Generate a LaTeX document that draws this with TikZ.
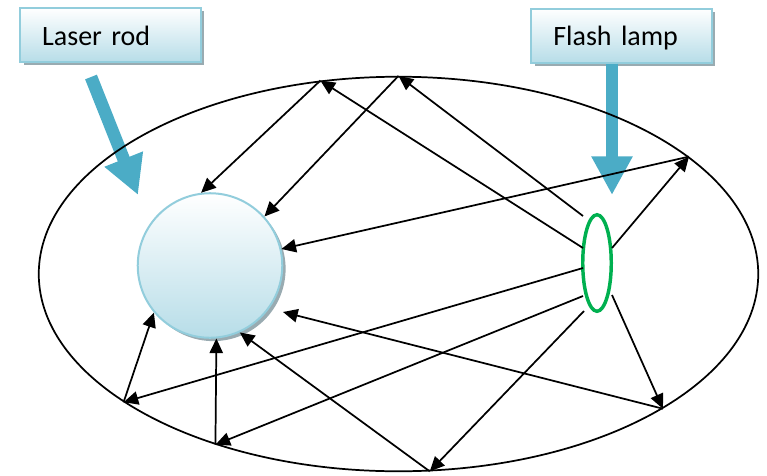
\documentclass[tikz,border=0pt]{standalone}
\usepackage{fontspec}
\setmainfont{Carlito}
\usepackage{xcolor}
\usetikzlibrary{arrows.meta}
\usetikzlibrary{shapes.geometric}
\usetikzlibrary{shadows}

\definecolor{callout}{RGB}{75,172,198}
\definecolor{rimblue}{RGB}{146,205,220}
\definecolor{rodblue}{RGB}{183,221,232}
\definecolor{lampgreen}{RGB}{0,176,80}
\definecolor{shadowgray}{RGB}{128,150,158}

\begin{document}
\begin{tikzpicture}[x=0.75pt, y=-0.75pt,
		ray/.style={black, line width=1.3pt, -{Triangle[length=11pt,width=10pt]}},
		callarrow/.style={callout, line width=9.5pt, -{Triangle[length=29pt,width=29pt]}},
		blueshade/.style={draw=rimblue, line width=1.5pt, top color=white, bottom color=rodblue,
			drop shadow={shadow xshift=2.5pt, shadow yshift=-2.5pt, fill=shadowgray, opacity=0.8}},
		labelbox/.style={blueshade, rectangle, inner xsep=16.5pt, text width=102.5pt, align=left,
			minimum height=40.5pt, text height=15.5pt, text depth=0pt,
			font=\fontsize{21}{24}\selectfont}]
			\useasboundingbox (0,0) rectangle (767,475);

			\coordinate (rodtail) at (91,77);
			\coordinate (rodtip) at (138,195);
			\coordinate (lamptip) at (612,195);

			\node[labelbox] (laserbox) at (110.5,35) {Laser rod};
			\node[labelbox] (flashbox) at (621.7,35.5) {Flash lamp};

			\draw[callarrow] (rodtail) -- (rodtip);
			\draw[callarrow] (flashbox.south -| lamptip) -- (lamptip);

			\node[draw, ellipse, line width=1.3pt, inner sep=0pt, minimum width=539.6pt, minimum height=295.9pt] (cavity) at (398.5,274) {};
			\node[blueshade, circle, inner sep=0pt, minimum size=108.4pt] (rod) at (210,265.5) {};
			\node[draw=lampgreen, ellipse, line width=2.6pt, inner sep=0pt, minimum width=21.4pt, minimum height=72.4pt] (lamp) at (597,263) {};

			\draw[ray] ([shift={(-14,-47)}]lamp.center) -- (cavity.90);
			\draw[ray] (cavity.90) -- (rod.42);

			\draw[ray] ([shift={(-14,-15)}]lamp.center) -- (cavity.112);
			\draw[ray] (cavity.112) -- (rod.97);

			\draw[ray] ([shift={(15,-15)}]lamp.center) -- (cavity.22);
			\draw[ray] (cavity.22) -- (rod.13);

			\draw[ray] ([shift={(-14,5)}]lamp.center) -- (cavity.205);
			\draw[ray] (cavity.205) -- (rod.220);

			\draw[ray] ([shift={(-14,33)}]lamp.center) -- (cavity.223);
			\draw[ray] (cavity.223) -- (rod.275);

			\draw[ray] ([shift={(-13,48)}]lamp.center) -- (cavity.279);
			\draw[ray] (cavity.279) -- (rod.294);

			\draw[ray] ([shift={(15,32)}]lamp.center) -- (cavity.333);
			\draw[ray] (cavity.333) -- ([shift={(73,46.5)}]rod.center);
		\end{tikzpicture}
\end{document}
